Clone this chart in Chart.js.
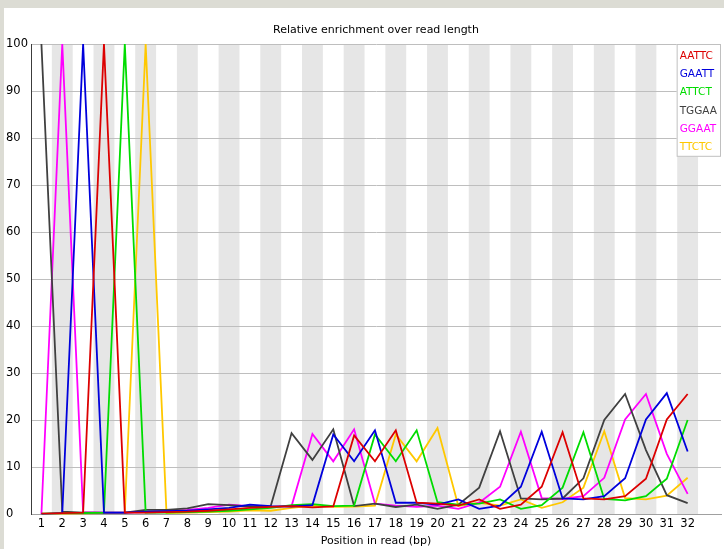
<!DOCTYPE html>
<html>
<head>
<meta charset="utf-8">
<script src="https://cdn.jsdelivr.net/npm/chart.js@4.4.1/dist/chart.umd.min.js"></script>
<style>
  html, body { margin: 0; padding: 0; }
  body { width: 724px; height: 549px; background: #dcdcd4; position: relative; overflow: hidden; }
  #panel { position: absolute; left: 4px; top: 8px; right: 0; bottom: 0; background: #ffffff; }
  #wrap { position: absolute; left: 0; top: 0; width: 724px; height: 549px; }
</style>
</head>
<body>
<div id="panel"></div>
<div id="wrap"><canvas id="chart" width="724" height="549"></canvas></div>
<script>
// Base positions along the read
const positions = [1, 2, 3, 4, 5, 6, 7, 8, 9, 10, 11, 12, 13, 14, 15, 16,
                   17, 18, 19, 20, 21, 22, 23, 24, 25, 26, 27, 28, 29, 30, 31, 32];

// Y axis tick values
const yTicks = [0, 10, 20, 30, 40, 50, 60, 70, 80, 90, 100];

// Kmer names and their enrichment per position
const kmers = ['AATTC', 'GAATT', 'ATTCT', 'TGGAA', 'GGAAT', 'TTCTC'];

const aattc = [0.2, 0.3, 0.4, 100, 0.4, 0.4, 0.5, 0.6, 0.8, 1.1, 1.4, 1.6, 1.8, 1.5, 1.7, 16.8,
               11.3, 17.9, 2.5, 2.3, 1.9, 3.2, 1.2, 2.1, 5.9, 17.5, 3.4, 3.2, 3.9, 7.6, 20.2, 25.6];
const gaatt = [0.1, 0.3, 100, 0.4, 0.4, 0.6, 0.7, 0.8, 1.1, 1.4, 2.1, 1.8, 1.7, 2.0, 17.0, 11.3,
               17.9, 2.5, 2.5, 2.1, 3.2, 1.2, 1.9, 5.9, 17.6, 3.4, 3.2, 3.9, 7.7, 20.2, 25.8, 13.4];
const attct = [0.2, 0.3, 0.3, 0.4, 100, 0.4, 0.4, 0.5, 0.6, 0.8, 1.1, 1.4, 2.0, 2.2, 1.8, 1.9,
               17.0, 11.3, 17.9, 2.6, 2.1, 2.3, 3.2, 1.2, 2.0, 5.7, 17.5, 3.3, 3.0, 3.9, 7.6, 20.1];
const tggaa = [100, 0.6, 0.4, 0.4, 0.4, 1.0, 1.0, 1.3, 2.2, 2.0, 1.7, 1.8, 17.3, 11.6, 18.1, 1.8,
               2.3, 1.6, 2.1, 1.2, 2.1, 5.7, 17.7, 3.4, 3.2, 3.4, 7.7, 20.1, 25.6, 13.7, 4.1, 2.4];
const ggaat = [0.1, 100, 0.5, 0.4, 0.4, 0.5, 0.7, 1.0, 1.4, 2.1, 1.8, 1.6, 1.8, 17.1, 11.3, 18.1,
               2.3, 1.9, 1.6, 1.9, 1.2, 2.5, 5.9, 17.6, 3.5, 3.3, 3.9, 7.8, 20.2, 25.6, 12.9, 4.4];
const ttctc = [0.1, 0.1, 0.2, 0.3, 0.4, 100, 0.3, 0.4, 0.5, 0.6, 0.9, 0.8, 1.4, 1.9, 1.6, 1.7,
               1.9, 17.0, 11.3, 18.4, 1.8, 2.5, 1.9, 3.2, 1.4, 2.6, 5.7, 17.7, 3.5, 3.2, 4.0, 7.8];

const seriesValues = [aattc, gaatt, attct, tggaa, ggaat, ttctc];
const seriesColors = ['rgb(220,0,0)', 'rgb(0,0,220)', 'rgb(0,220,0)',
                      'rgb(64,64,64)', 'rgb(255,0,255)', 'rgb(255,200,0)'];

const FONT = 'DejaVu Sans';

// Alternating grey bands behind every other base position
const stripePlugin = {
  id: 'stripes',
  beforeDraw(chart) {
    const { ctx, chartArea: a, scales: { x } } = chart;
    ctx.save();
    ctx.fillStyle = 'rgb(230,230,230)';
    positions.forEach((p, i) => {
      if (i % 2 === 1) {
        const l = Math.max(a.left, x.getPixelForValue(p - 0.5));
        const r = Math.min(a.right, x.getPixelForValue(p + 0.5));
        ctx.fillRect(l, a.top, r - l, a.bottom - a.top);
      }
    });
    ctx.restore();
  }
};

// Boxed legend in the top right corner of the plot, text in series colour
const legendBoxPlugin = {
  id: 'legendBox',
  afterDraw(chart) {
    const { ctx, chartArea: a } = chart;
    const sets = chart.data.datasets;
    ctx.save();
    ctx.font = '10.5px "' + FONT + '"';
    let w = 0;
    sets.forEach(d => { w = Math.max(w, ctx.measureText(d.label).width); });
    const boxW = w + 7;
    const left = a.right - boxW;
    const top = a.top;
    const rowH = 18.3;
    const boxH = sets.length * rowH + 3;
    ctx.fillStyle = '#ffffff';
    ctx.fillRect(left, top, boxW, boxH);
    ctx.strokeStyle = 'rgb(192,192,192)';
    ctx.lineWidth = 1;
    ctx.strokeRect(left + 0.5, top + 0.5, boxW - 1, boxH - 1);
    ctx.textBaseline = 'middle';
    ctx.textAlign = 'left';
    sets.forEach((d, i) => {
      ctx.fillStyle = d.borderColor;
      ctx.fillText(d.label, left + 3, top + 12 + i * rowH);
    });
    ctx.restore();
  }
};

new Chart(document.getElementById('chart'), {
  type: 'line',
  data: {
    datasets: kmers.map((k, i) => ({
      label: k,
      data: positions.map((p, j) => ({ x: p, y: seriesValues[i][j] })),
      borderColor: seriesColors[i],
      backgroundColor: seriesColors[i],
      borderWidth: 1.8,
      pointRadius: 0,
      tension: 0,
      fill: false
    }))
  },
  options: {
    responsive: false,
    animation: false,
    events: [],
    layout: { padding: { left: 6, right: 3, top: 9, bottom: 0 } },
    plugins: {
      legend: { display: false },
      tooltip: { enabled: false },
      title: {
        display: true,
        fullSize: false,
        text: 'Relative enrichment over read length',
        color: '#000000',
        font: { family: FONT, size: 11, weight: 'normal', lineHeight: 1.2 },
        padding: { top: 15, bottom: 6.8 }
      }
    },
    scales: {
      x: {
        type: 'linear',
        min: 0.5,
        max: 33.6,
        afterBuildTicks(scale) { scale.ticks = positions.map(v => ({ value: v })); },
        afterFit(scale) { scale.height = 34.5; },
        grid: { display: false, drawTicks: false },
        border: { display: true, color: 'rgb(160,160,160)', width: 1 },
        ticks: {
          autoSkip: false,
          maxRotation: 0,
          padding: 3,
          color: '#000000',
          font: { family: FONT, size: 11.5 },
          callback: (v) => String(v)
        },
        title: {
          display: true,
          text: 'Position in read (bp)',
          color: '#000000',
          font: { family: FONT, size: 11 },
          padding: { top: 0, bottom: 1 }
        }
      },
      y: {
        min: 0,
        max: 100,
        afterBuildTicks(scale) { scale.ticks = yTicks.map(v => ({ value: v })); },
        afterFit(scale) { scale.width = 25; },
        grid: { color: 'rgb(190,190,190)', lineWidth: 1, drawTicks: false },
        border: { display: true, color: 'rgb(60,60,60)', width: 1 },
        ticks: {
          crossAlign: 'far',
          padding: 0,
          color: '#000000',
          font: { family: FONT, size: 11.5 },
          callback: (v) => String(v)
        }
      }
    }
  },
  plugins: [stripePlugin, legendBoxPlugin]
});
</script>
</body>
</html>
